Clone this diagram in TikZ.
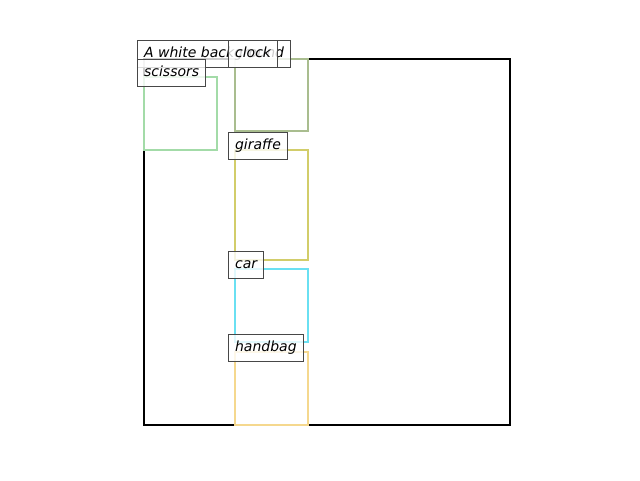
\documentclass[tikz,border=0pt]{standalone}
\usepackage{fontspec}
\setmainfont{DejaVu Sans}
\begin{document}
\begin{tikzpicture}[x=1pt,y=-1pt,
  objbox/.style={line width=2.6pt},
  lbl/.style={draw=black!72, line width=1.2pt, fill=white, fill opacity=0.8, text opacity=1,
    anchor=north west, inner xsep=6.5pt, inner ysep=0pt, minimum height=27pt,
    font=\fontsize{14}{16}\selectfont\itshape, text height=10.2pt, text depth=3.2pt}]
\definecolor{cscis}{HTML}{A3DBA8}
\definecolor{cclock}{HTML}{A9BD8F}
\definecolor{cgir}{HTML}{D2CD6A}
\definecolor{ccar}{HTML}{6AE0F2}
\definecolor{cbag}{HTML}{F5D88E}
\useasboundingbox (0,0) rectangle (640,480);
\draw[line width=2.2pt, black] (144,59) rectangle (510,425);
\draw[objbox, cscis] (144,77) rectangle (217,150);
\draw[objbox, cclock] (235,59) rectangle (308,131);
\draw[objbox, cgir] (235,150) rectangle (308,260);
\draw[objbox, ccar] (235,269) rectangle (308,342);
\draw[objbox, cbag] (235,352) rectangle (308,425);
\node[lbl] (bg) at (137,40) {A white background};
\node[lbl] (scis) at (137,59) {scissors};
\node[lbl] (clock) at (228,40) {clock};
\node[lbl] (gir) at (228,132) {giraffe};
\node[lbl] (car) at (228,251) {car};
\node[lbl] (bag) at (228,334) {handbag};
\end{tikzpicture}
\end{document}
